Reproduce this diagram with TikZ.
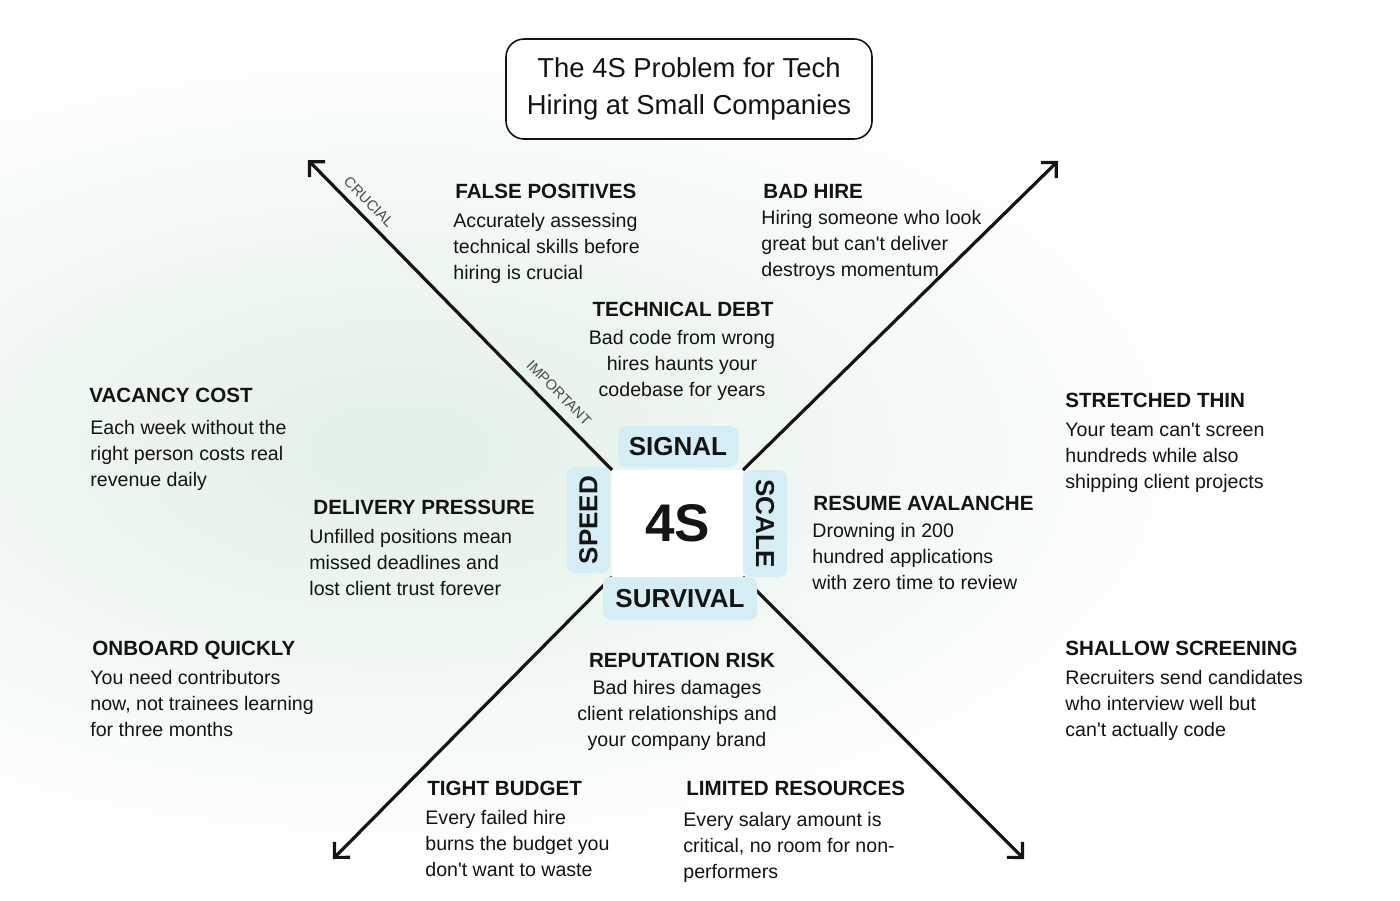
\documentclass[tikz,border=0pt]{standalone}
\usepackage{fontspec}
\setmainfont{Liberation Sans}[Ligatures=TeXOff]
\usetikzlibrary{arrows.meta}
\definecolor{ink}{HTML}{141414}
\definecolor{tabblue}{HTML}{D5EDF5}
\definecolor{mint}{HTML}{E2F0E6}
\definecolor{lbl}{HTML}{4A4A4A}
\begin{document}
\begin{tikzpicture}[x=0.5pt,y=-0.5pt,
  head/.style={font=\fontsize{10.3}{13}\selectfont\bfseries, text=ink, inner sep=0pt, anchor=base west},
  chead/.style={head, anchor=base},
  body/.style={font=\fontsize{9.8}{13}\selectfont, text=ink, inner sep=0pt, align=left, anchor=north west},
  cbody/.style={body, align=center, anchor=north},
  tab/.style={fill=tabblue, rounded corners=4pt, inner sep=0pt, text=ink, font=\fontsize{13}{15}\selectfont\bfseries},
  arr/.style={draw=ink, line width=1.6pt, line cap=round, -{Straight Barb[length=5.5pt,width=11pt,line width=1.6pt]}},
  axislbl/.style={font=\fontsize{7.3}{9}\selectfont, text=lbl, inner sep=0pt, rotate=-45.4},
  titlebox/.style={draw=ink, line width=0.8pt, fill=white, rounded corners=9pt, align=center, inner sep=0pt, minimum width=183pt, minimum height=50pt, font=\fontsize{13.7}{18.5}\selectfont, text=ink}
]
\useasboundingbox (0,0) rectangle (1400,900);
\fill[white] (0,0) rectangle (1400,900);
\begin{scope}
  \clip (0,0) rectangle (1400,900);
  \shade[inner color=mint, outer color=white] (400,450) ellipse [x radius=430pt, y radius=215pt];
\end{scope}

% title
\node[titlebox] (title) at (689,89) {The 4S Problem for Tech\\Hiring at Small Companies};

% arrow tips
\coordinate (tipNW) at (308,160);
\coordinate (tipNE) at (1058,161);
\coordinate (tipSW) at (333,859);
\coordinate (tipSE) at (1024,859);

% core position helper
\coordinate (corec) at (677.5,523.5);
\path (corec) node[minimum width=65.5pt, minimum height=53.5pt, inner sep=0pt] (core0) {};

\draw[arr] (core0.north west) -- (tipNW);
\draw[arr] (core0.north east) -- (tipNE);
\draw[arr] (core0.south west) -- (tipSW);
\draw[arr] (core0.south east) -- (tipSE);

\node[axislbl] (crucial) at (369,202) {CRUCIAL};
\node[axislbl] (important) at (559,393) {IMPORTANT};

% tabs
\node[tab, minimum width=60pt, minimum height=20.5pt] (signal) at (678,446.5) {SIGNAL};
\node[tab, minimum width=53pt, minimum height=21.5pt, rotate=90] (speed) at (588.5,520) {SPEED};
\node[tab, minimum width=53.5pt, minimum height=22pt, rotate=-90] (scale) at (765,523.5) {SCALE};
\node[tab, minimum width=77pt, minimum height=21.5pt] (survival) at (680,598.5) {SURVIVAL};

% core
\node[fill=white, minimum width=65.5pt, minimum height=53.5pt, inner sep=0pt, text=ink, font=\fontsize{26.5}{30}\selectfont\bfseries] (core) at (corec) {4S};

% text blocks
\node[head] (h1) at (455,198) {FALSE POSITIVES};
\node[body] (b1) at (453,209) {\strut Accurately assessing\\technical skills before\\hiring is crucial};

\node[head] (h2) at (763,198) {BAD HIRE};
\node[body] (b2) at (761,206) {\strut Hiring someone who look\\great but can't deliver\\destroys momentum};

\node[chead] (h3) at (683,316) {TECHNICAL DEBT};
\node[cbody] (b3) at (682,326) {\strut Bad code from wrong\\hires haunts your\\codebase for years};

\node[head] (h4) at (89,402) {VACANCY COST};
\node[body] (b4) at (90,416) {\strut Each week without the\\right person costs real\\revenue daily};

\node[head] (h5) at (313,514) {DELIVERY PRESSURE};
\node[body] (b5) at (309,525) {\strut Unfilled positions mean\\missed deadlines and\\lost client trust forever};

\node[head] (h6) at (1065,407) {STRETCHED THIN};
\node[body] (b6) at (1065,418) {\strut Your team can't screen\\hundreds while also\\shipping client projects};

\node[head] (h7) at (813,510) {RESUME AVALANCHE};
\node[body] (b7) at (812,519) {\strut Drowning in 200\\hundred applications\\with zero time to review};

\node[head] (h8) at (92,655) {ONBOARD QUICKLY};
\node[body] (b8) at (90,666) {\strut You need contributors\\now, not trainees learning\\for three months};

\node[chead] (h9) at (682,667) {REPUTATION RISK};
\node[cbody] (b9) at (677,676) {\strut Bad hires damages\\client relationships and\\your company brand};

\node[head] (h10) at (1065,655) {SHALLOW SCREENING};
\node[body] (b10) at (1065,666) {\strut Recruiters send candidates\\who interview well but\\can't actually code};

\node[head] (h11) at (427,795) {TIGHT BUDGET};
\node[body] (b11) at (425,806) {\strut Every failed hire\\burns the budget you\\don't want to waste};

\node[head] (h12) at (686,795) {LIMITED RESOURCES};
\node[body] (b12) at (683,808) {\strut Every salary amount is\\critical, no room for non-\\performers};
\end{tikzpicture}
\end{document}
